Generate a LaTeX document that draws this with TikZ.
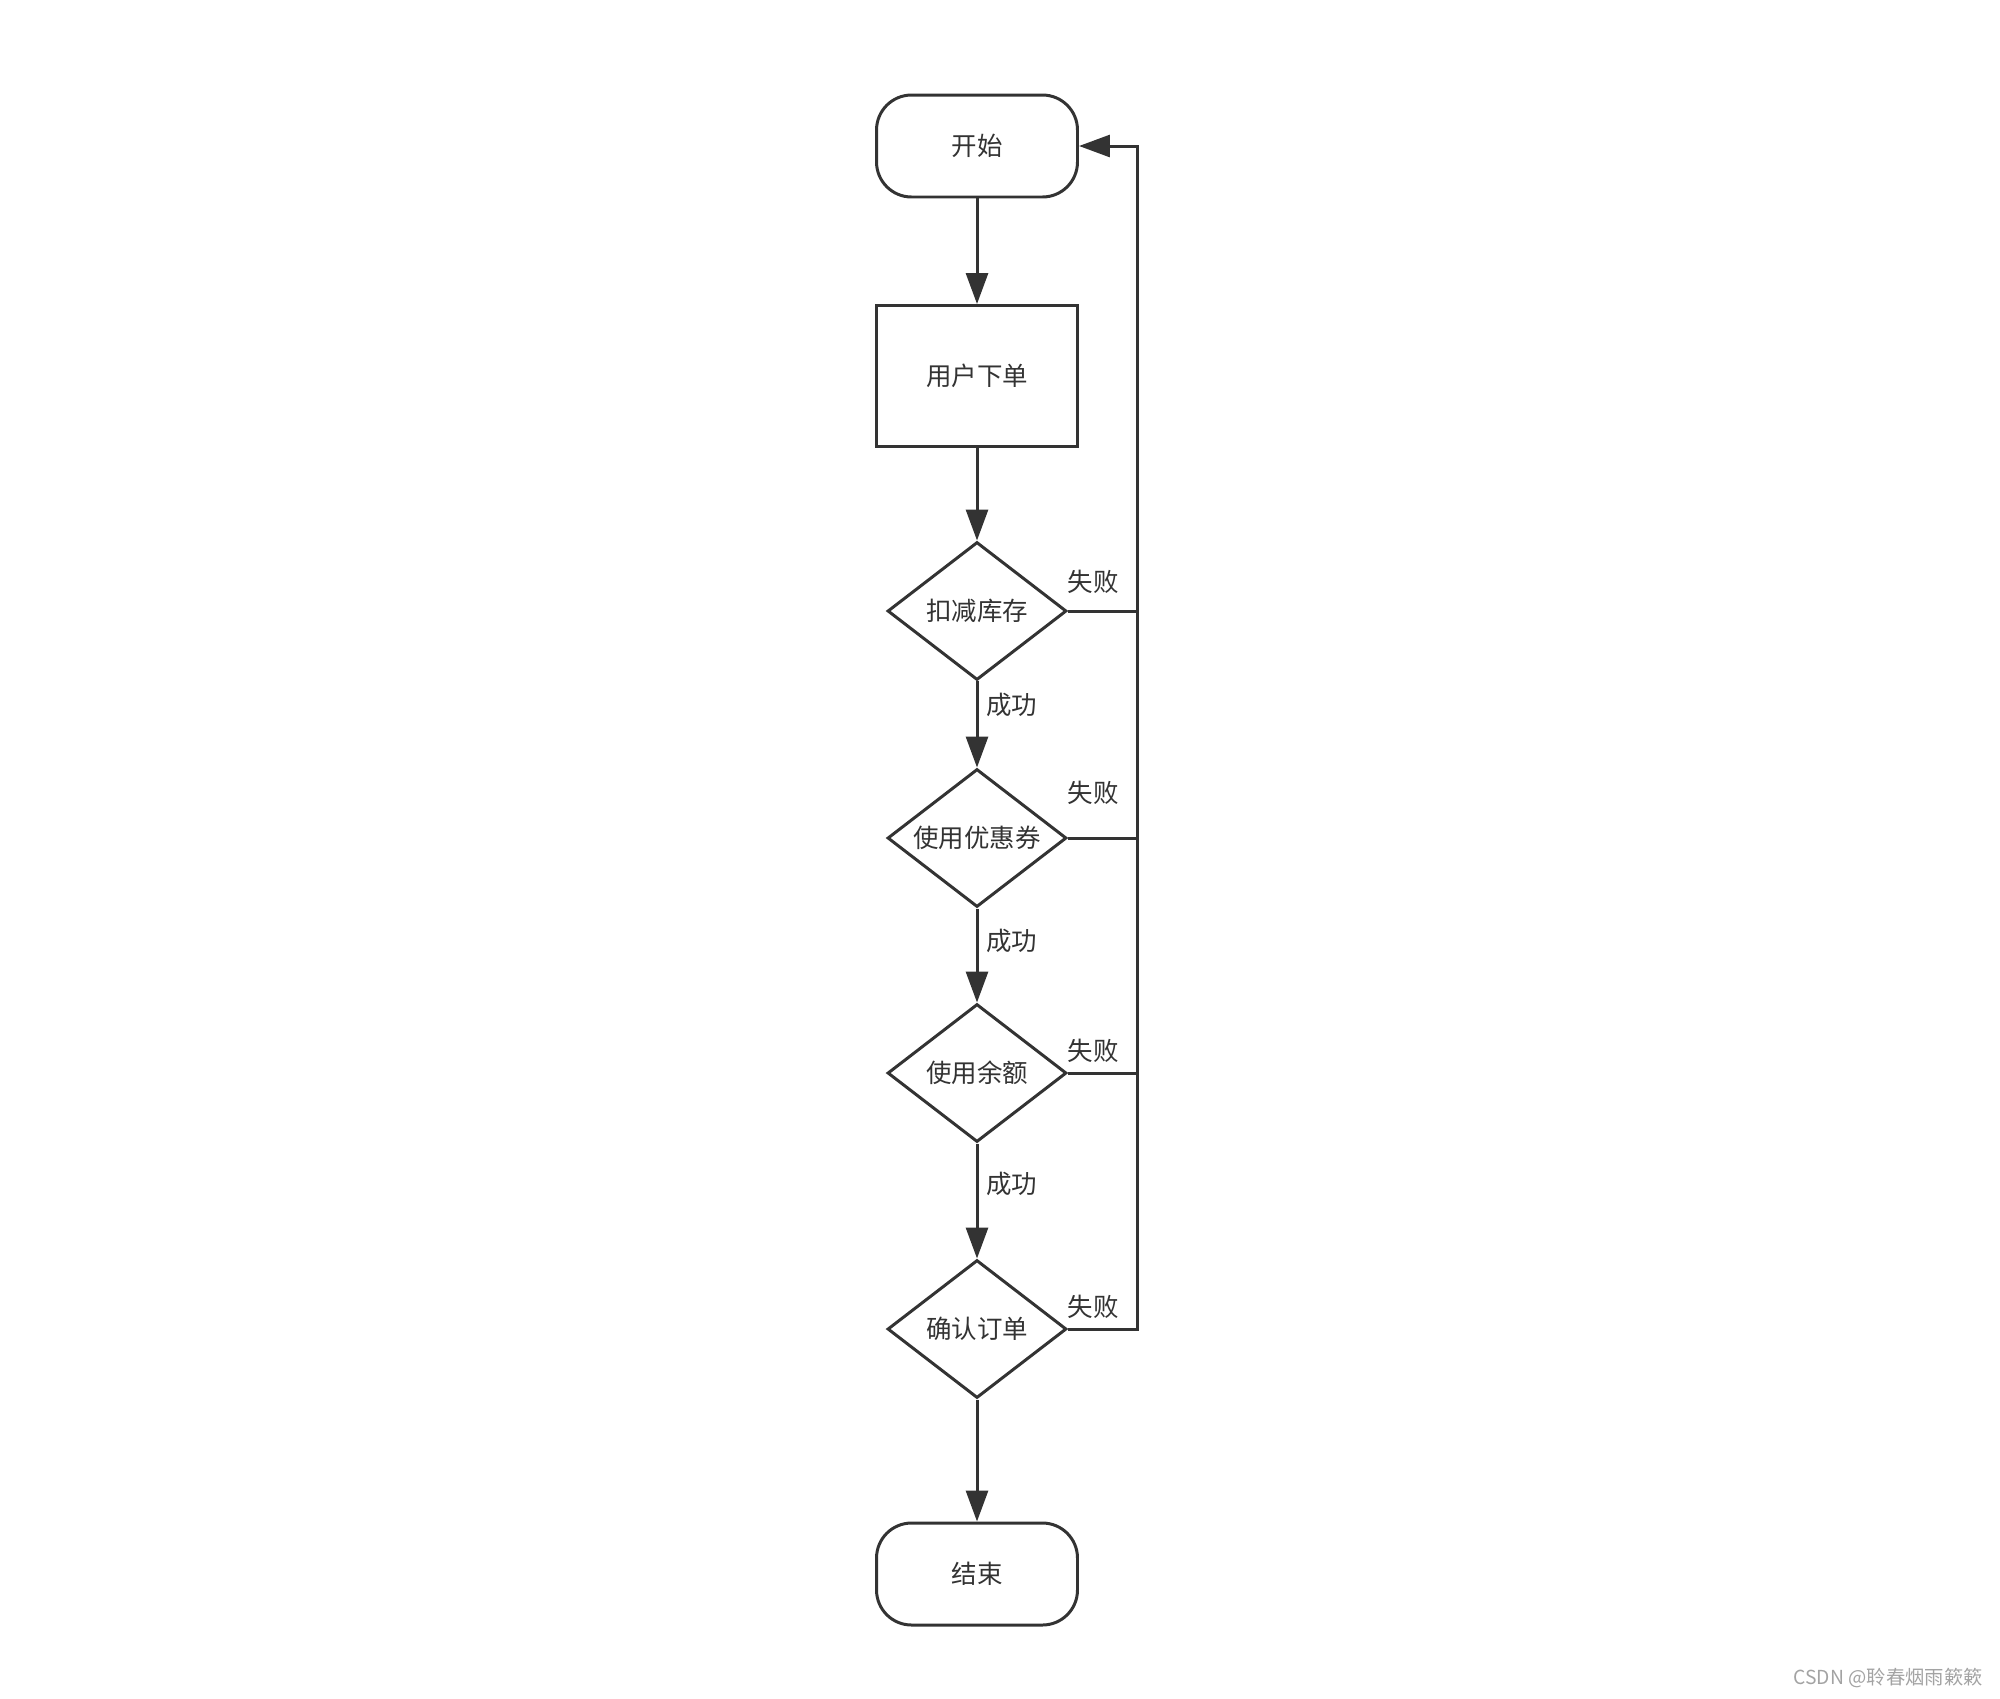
\documentclass[tikz,border=0pt]{standalone}
\usepackage{fontspec}
\setmainfont{Noto Sans CJK SC}
\usetikzlibrary{arrows.meta, positioning, shapes.geometric, calc}
\definecolor{ink}{HTML}{333333}
\definecolor{wmgray}{HTML}{A3A3A3}
\newcommand{\flowfont}{\fontsize{14.5}{17}\selectfont}

\begin{document}
\begin{tikzpicture}[x=0.02cm, y=-0.02cm,
  term/.style={draw=ink, line width=1.7pt, rounded corners=0.7cm,
        minimum width=4.02cm, minimum height=2.04cm, font=\flowfont, text=ink},
  proc/.style={draw=ink, line width=1.7pt,
        minimum width=4.02cm, minimum height=2.82cm, font=\flowfont, text=ink},
  check/.style={diamond, draw=ink, line width=1.7pt, aspect=1.3, inner sep=0pt,
        minimum width=3.58cm, minimum height=2.76cm, font=\flowfont, text=ink},
  flow/.style={-{Triangle[length=0.62cm, width=0.44cm]}, line width=1.7pt, ink, line join=miter},
  link/.style={line width=1.7pt, ink},
  tag/.style={font=\flowfont, text=ink, inner sep=0pt}
]
  \useasboundingbox (0,0) rectangle (2000,1698);
  % Main column
  \node[term] (start) at (977,146) {开始};
  \node[proc] (order) at (977,376) {用户下单};
  \node[check] (stock) at (977,611) {扣减库存};
  \node[check] (coupon) at (977,838) {使用优惠券};
  \node[check] (balance) at (977,1073) {使用余额};
  \node[check] (confirm) at (977,1329) {确认订单};
  \node[term] (stop) at (977,1574) {结束};
  % Success path
  \draw[flow] (start) -- (order);
  \draw[flow] (order) -- (stock);
  \draw[flow] (stock) -- node[tag, pos=0.27, right=4.5pt] {成功} (coupon);
  \draw[flow] (coupon) -- node[tag, pos=0.35, right=4.5pt] {成功} (balance);
  \draw[flow] (balance) -- node[tag, pos=0.35, right=4.5pt] {成功} (confirm);
  \draw[flow] (confirm) -- (stop);
  % Failure path back to start
  \coordinate (turn) at (1137,146);
  \draw[flow] (confirm.east) -| (turn) -- (start.east);
  \draw[link] (stock.east) -- (stock.east -| turn);
  \draw[link] (coupon.east) -- (coupon.east -| turn);
  \draw[link] (balance.east) -- (balance.east -| turn);
  \node[tag] (fail1) at (1093,582) {失败};
  \node[tag] (fail2) at (1093,793) {失败};
  \node[tag] (fail3) at (1093,1051) {失败};
  \node[tag] (fail4) at (1093,1307) {失败};
  % Watermark
  \node[anchor=east, font=\fontsize{11}{13}\selectfont, text=wmgray, inner sep=0pt]
        (credit) at (1983,1678) {CSDN @聆春烟雨簌簌};
\end{tikzpicture}
\end{document}
